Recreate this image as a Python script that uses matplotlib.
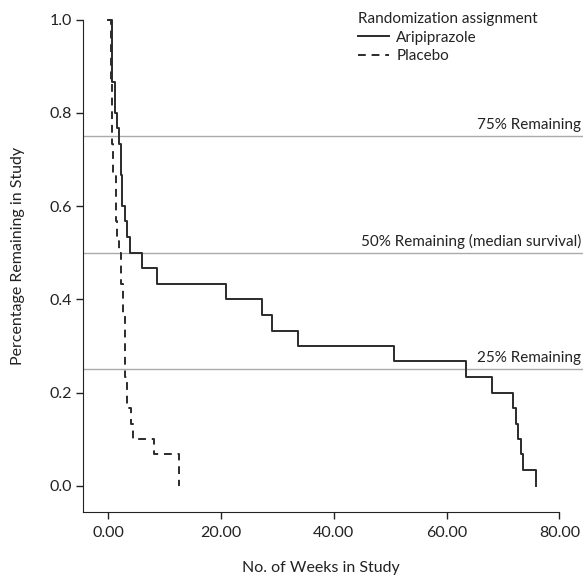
import numpy as np
import matplotlib
matplotlib.use('Agg')
import matplotlib.pyplot as plt
from matplotlib.lines import Line2D

plt.rcParams['font.family'] = ['Lato', 'DejaVu Sans']

# Kaplan-Meier style step data (weeks, fraction remaining)
arip_weeks = [0, 0.7, 1.2, 1.5, 1.8, 2.2, 2.5, 2.9, 3.3, 3.9, 6.0, 8.7, 20.8, 27.3,
              29.1, 33.6, 50.7, 63.4, 68.0, 71.7, 72.3, 72.7, 73.2, 73.6, 75.8]
arip_surv = [1.0, 0.867, 0.8, 0.767, 0.733, 0.667, 0.6, 0.567, 0.533, 0.5, 0.467,
             0.433, 0.4, 0.367, 0.333, 0.3, 0.267, 0.233, 0.2, 0.167, 0.133, 0.1,
             0.067, 0.033, 0.0]

plac_weeks = [0, 0.5, 0.7, 0.9, 1.3, 1.4, 1.6, 1.9, 2.25, 2.65, 2.95, 3.35, 3.95,
              4.3, 8.1, 12.6]
plac_surv = [1.0, 0.867, 0.733, 0.667, 0.633, 0.567, 0.533, 0.5, 0.433, 0.367,
             0.233, 0.167, 0.133, 0.1, 0.067, 0.0]

ref_levels = [0.75, 0.5, 0.25]
ref_labels = ['75% Remaining', '50% Remaining (median survival)', '25% Remaining']

x_ticks = [0, 20, 40, 60, 80]
y_ticks = [0.0, 0.2, 0.4, 0.6, 0.8, 1.0]

W, H = 586, 576
fig = plt.figure(figsize=(W / 100, H / 100), dpi=100)
ax = fig.add_axes([83 / W, 64 / H, 500 / W, 512 / H])

ax.set_xlim(-4.5, 84.2)
ax.set_ylim(-0.0564, 1.0423)

# reference lines
for lev, lab in zip(ref_levels, ref_labels):
    ax.axhline(lev, color='#aaaaaa', lw=1.0, zorder=1)
    ax.text(83.9, lev + 0.008, lab, ha='right', va='bottom', fontsize=11, color='#222222')

line_col = '#2b2b2b'
ax.step(arip_weeks, arip_surv, where='post', color=line_col, lw=1.4, zorder=3)
ax.step(plac_weeks, plac_surv, where='post', color=line_col, lw=1.4,
        linestyle=(0, (4, 3)), zorder=3)

# axes styling
for s in ['top', 'right']:
    ax.spines[s].set_visible(False)
ax.spines['left'].set_bounds(-0.0564, 1.0)
ax.spines['bottom'].set_bounds(-4.5, 80)
ax.spines['left'].set_color('#222222')
ax.spines['bottom'].set_color('#222222')

ax.set_xticks(x_ticks)
ax.set_xticklabels(['%.2f' % v for v in x_ticks])
ax.set_yticks(y_ticks)
ax.set_yticklabels(['%.1f' % v for v in y_ticks])
ax.tick_params(axis='both', direction='out', length=5, width=1, color='#222222',
               labelsize=11.5, labelcolor='#222222')
ax.tick_params(axis='x', pad=5)
ax.tick_params(axis='y', pad=3)

fig.text(321 / W, 1 - 568 / H, 'No. of Weeks in Study', ha='center', va='center',
         fontsize=11.5, color='#222222')
fig.text(18 / W, 1 - 256 / H, 'Percentage Remaining in Study', ha='center', va='center',
         rotation=90, fontsize=11.5, color='#222222')

handles = [Line2D([], [], color=line_col, lw=1.4),
           Line2D([], [], color=line_col, lw=1.4, linestyle=(0, (4, 3)))]
leg = fig.legend(handles, ['Aripiprazole', 'Placebo'], title='Randomization assignment',
                 loc='upper left', bbox_to_anchor=(358 / W, 1 - 12 / H), frameon=False,
                 fontsize=11, title_fontsize=11, handlelength=2.0, handletextpad=0.5,
                 borderpad=0, borderaxespad=0, labelspacing=0.3, alignment='left')
for t in leg.get_texts():
    t.set_color('#222222')
leg.get_title().set_color('#222222')

fig.savefig('out.png', dpi=100)
